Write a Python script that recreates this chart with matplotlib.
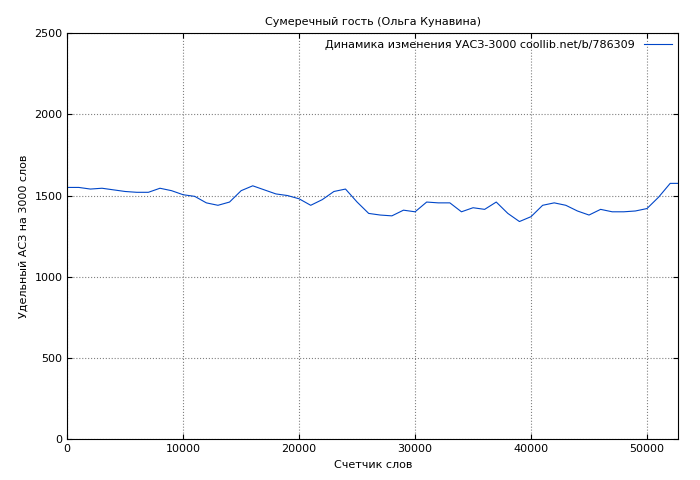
import matplotlib
matplotlib.use("Agg")
import matplotlib.pyplot as plt

words = [0, 1000, 2000, 3000, 4000, 5000, 6000, 7000, 8000, 9000, 10000, 11000, 12000, 13000,
         14000, 15000, 16000, 17000, 18000, 19000, 20000, 21000, 22000, 23000, 24000, 25000,
         26000, 27000, 28000, 29000, 30000, 31000, 32000, 33000, 34000, 35000, 36000, 37000,
         38000, 39000, 40000, 41000, 42000, 43000, 44000, 45000, 46000, 47000, 48000, 49000,
         50000, 51000, 52000, 52700]
asz = [1550, 1550, 1540, 1545, 1535, 1525, 1520, 1520, 1545, 1530, 1505, 1495, 1455, 1440,
       1460, 1530, 1560, 1535, 1510, 1500, 1480, 1440, 1475, 1525, 1540, 1460,
       1390, 1380, 1375, 1410, 1400, 1460, 1455, 1455, 1400, 1425, 1415, 1460,
       1390, 1340, 1370, 1440, 1455, 1440, 1405, 1380, 1415, 1400, 1400, 1405,
       1420, 1490, 1575, 1575]

plt.rcParams['font.size'] = 8
fig = plt.figure(figsize=(7, 4.8), dpi=100)
ax = fig.add_axes([0.096, 0.085, 0.873, 0.846])
ax.plot(words, asz, color='#0046c8', linewidth=0.8,
        label="Динамика изменения УАСЗ-3000 coollib.net/b/786309")
ax.set_xlim(0, 52700)
ax.set_ylim(0, 2500)
ax.set_xticks([0, 10000, 20000, 30000, 40000, 50000])
ax.set_yticks([0, 500, 1000, 1500, 2000, 2500])
ax.grid(True, linestyle=':', color='gray', linewidth=0.8)
ax.tick_params(direction='in', top=True, right=True)
ax.set_title("Сумеречный гость (Ольга Кунавина)", fontsize=8)
ax.set_xlabel("Счетчик слов")
ax.set_ylabel("Удельный АСЗ на 3000 слов")
ax.legend(loc='upper right', frameon=False, markerfirst=False, handlelength=2.5,
          borderaxespad=0.2)
fig.savefig("out.png")
